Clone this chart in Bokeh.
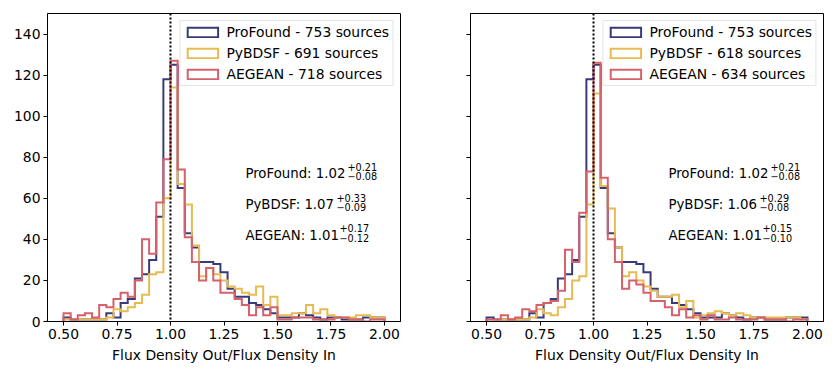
import numpy as np
from bokeh.plotting import figure
from bokeh.models import (Span, Label, Legend, LegendItem, FixedTicker,
                          PrintfTickFormatter, Range1d, CustomLabelingPolicy)
from bokeh.layouts import row
from bokeh.embed import file_html
from bokeh.resources import INLINE

# ---------------- data ----------------
BIN_START = 0.5
BIN_END = 2.0
N_BINS = 45

# left panel
left_profound = [2, 1, 1, 1, 1, 1, 4, 2, 9, 11,
                 21, 23, 30, 51, 118, 125, 65, 43, 36, 29,
                 29, 28, 24, 16, 12, 12, 9, 8, 6, 4,
                 2, 2, 2, 4, 3, 2, 1, 2, 2, 1,
                 1, 1, 2, 2, 2]
left_pybdsf = [1, 1, 1, 1, 1, 1, 2, 6, 5, 7,
               9, 13, 23, 24, 60, 114, 67, 57, 37, 22,
               26, 23, 20, 17, 16, 14, 13, 17, 8, 12,
               3, 3, 4, 4, 8, 4, 6, 3, 2, 2,
               2, 3, 3, 2, 2]
left_aegean = [4, 1, 3, 4, 2, 8, 7, 11, 14, 12,
               20, 40, 33, 58, 79, 127, 74, 41, 29, 20,
               26, 20, 14, 14, 11, 8, 3, 7, 3, 7,
               1, 1, 2, 2, 2, 1, 1, 1, 2, 2,
               1, 1, 0, 1, 1]

# right panel
right_profound = list(left_profound)
right_pybdsf = [0, 0, 1, 1, 1, 1, 2, 6, 4, 3,
                7, 11, 20, 22, 57, 111, 66, 55, 36, 22,
                24, 20, 17, 15, 12, 12, 13, 7, 10, 2,
                3, 4, 5, 4, 3, 4, 3, 2, 2, 2,
                2, 2, 2, 2, 1]
right_aegean = [1, 1, 3, 1, 2, 6, 5, 8, 9, 10,
                15, 35, 29, 53, 73, 126, 70, 40, 29, 16,
                20, 18, 14, 10, 10, 7, 3, 6, 2, 3,
                1, 3, 1, 1, 2, 1, 1, 1, 2, 1,
                1, 1, 0, 1, 1]

series_names = ["ProFound", "PyBDSF", "AEGEAN"]
left_counts_src = [753, 691, 718]
right_counts_src = [753, 618, 634]

left_stats = [("ProFound", "1.02", "+0.21", "\u22120.08"),
              ("PyBDSF", "1.07", "+0.33", "\u22120.09"),
              ("AEGEAN", "1.01", "+0.17", "\u22120.12")]
right_stats = [("ProFound", "1.02", "+0.21", "\u22120.08"),
               ("PyBDSF", "1.06", "+0.29", "\u22120.08"),
               ("AEGEAN", "1.01", "+0.15", "\u22120.10")]
stat_y = [70, 55, 40]
stat_x = 1.35

x_ticks = [0.5, 0.75, 1.0, 1.25, 1.5, 1.75, 2.0]
y_ticks = [0, 20, 40, 60, 80, 100, 120, 140]

COLORS = ["#393b79", "#e7ba52", "#d6616b"]
FONT = "DejaVu Sans"
FS = "13.9px"
FS_STAT = "13.3px"
FS_SMALL = "9.7px"

# offsets of the super/subscripts from the start of each stat text (px)
sup_offsets = [102, 91, 94]
STAT_RAISE = 4


def step_xy(counts):
    edges = np.linspace(BIN_START, BIN_END, N_BINS + 1)
    xs = np.repeat(edges, 2)
    ys = np.concatenate([[0], np.repeat(np.asarray(counts, float), 2), [0]])
    return xs, ys


def make_panel(hists, src_counts, stats, show_ylabels, width, bl, br):
    p = figure(width=width, height=366, output_backend="svg",
               toolbar_location=None,
               x_range=Range1d(0.425, 2.075), y_range=Range1d(0, 150),
               min_border_left=bl, min_border_right=br,
               min_border_top=13, min_border_bottom=45)
    p.background_fill_color = "white"
    p.border_fill_color = "white"
    p.outline_line_color = "black"
    p.outline_line_width = 1
    p.xgrid.visible = False
    p.ygrid.visible = False

    for ax in (p.xaxis[0], p.yaxis[0]):
        ax.axis_line_color = "black"
        ax.major_tick_line_color = "black"
        ax.major_tick_out = 4
        ax.major_tick_in = 0
        ax.minor_tick_line_color = None
        ax.major_label_text_font = FONT
        ax.major_label_text_font_size = FS
        ax.major_label_text_color = "black"
        ax.major_label_standoff = 3

    p.xaxis.ticker = FixedTicker(ticks=x_ticks)
    p.xaxis.formatter = PrintfTickFormatter(format="%.2f")
    p.xaxis.axis_label = "Flux Density Out/Flux Density In"
    p.xaxis.axis_label_text_font = FONT
    p.xaxis.axis_label_text_font_size = FS
    p.xaxis.axis_label_text_font_style = "normal"
    p.xaxis.axis_label_text_color = "black"
    p.xaxis.axis_label_standoff = 5

    p.yaxis.ticker = FixedTicker(ticks=y_ticks)
    if not show_ylabels:
        p.yaxis.major_label_policy = CustomLabelingPolicy(
            code="for (const i of indices) { indices.unset(i) }\nreturn indices")

    legend_items = []
    for i, (counts, name, n) in enumerate(zip(hists, series_names, src_counts)):
        xs, ys = step_xy(counts)
        if i == 2:
            span = Span(location=1.0, dimension="height", line_color="black",
                        line_dash="2 2", line_width=2)
            p.add_layout(span)
        p.line(xs, ys, line_color=COLORS[i], line_width=2, line_join="miter")
        # legend-only renderer (NaN box: nothing drawn in the frame)
        key = p.quad(left=[np.nan], right=[np.nan], top=[np.nan],
                     bottom=[np.nan], fill_alpha=0, line_color=COLORS[i],
                     line_width=2, line_join="miter")
        legend_items.append(LegendItem(label=f"{name} - {n} sources",
                                       renderers=[key]))

    legend = Legend(items=legend_items, location="top_right", margin=7,
                    padding=3, spacing=5, glyph_width=38, glyph_height=12,
                    label_height=12, label_standoff=5,
                    label_text_font=FONT, label_text_font_size=FS,
                    label_text_color="black",
                    border_line_color="#cccccc", border_line_width=1,
                    background_fill_alpha=0.8)
    p.add_layout(legend)

    for (name, val, up, lo), yv, off in zip(stats, stat_y, sup_offsets):
        p.add_layout(Label(x=stat_x, y=yv, y_offset=STAT_RAISE,
                           text=f"{name}: {val}",
                           text_font=FONT, text_font_size=FS_STAT,
                           text_baseline="alphabetic", text_align="left",
                           text_color="black"))
        p.add_layout(Label(x=stat_x, y=yv, x_offset=off,
                           y_offset=STAT_RAISE + 7, text=up,
                           text_font=FONT, text_font_size=FS_SMALL,
                           text_baseline="alphabetic", text_align="left",
                           text_color="black"))
        p.add_layout(Label(x=stat_x, y=yv, x_offset=off,
                           y_offset=STAT_RAISE - 2.5, text=lo,
                           text_font=FONT, text_font_size=FS_SMALL,
                           text_baseline="alphabetic", text_align="left",
                           text_color="black"))
    return p


p1 = make_panel([left_profound, left_pybdsf, left_aegean], left_counts_src,
                left_stats, True, 410, 47, 10)
p2 = make_panel([right_profound, right_pybdsf, right_aegean], right_counts_src,
                right_stats, False, 421, 60, 8)

layout = row(p1, p2)
open("out.html", "w").write(file_html(layout, INLINE))
